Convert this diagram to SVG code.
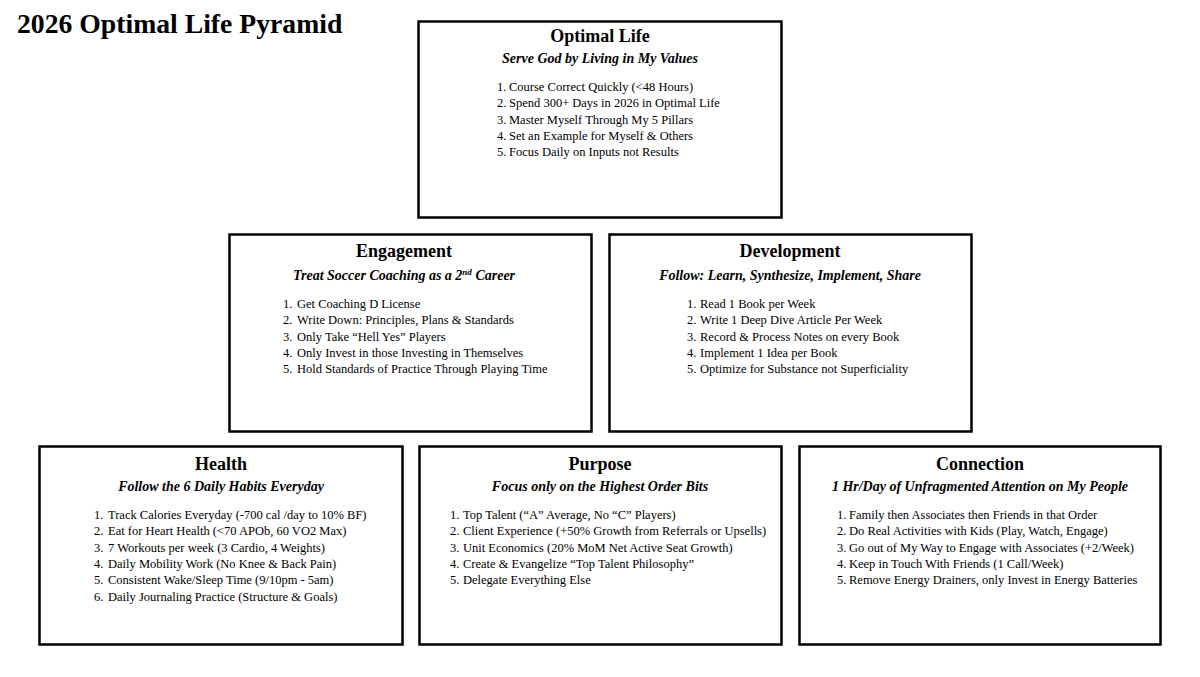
<svg xmlns="http://www.w3.org/2000/svg" width="1200" height="677" viewBox="0 0 1200 677">
<style>
.box{fill:#fff;stroke:#000;stroke-width:2.5}
.ttl{font-family:"Liberation Serif",serif;font-weight:bold;font-size:18px;text-anchor:middle;fill:#000}
.sub{font-family:"Liberation Serif",serif;font-weight:bold;font-style:italic;font-size:14px;text-anchor:middle;fill:#000}
.li{font-family:"Liberation Serif",serif;font-size:12.5px;fill:#000}
.main{font-family:"Liberation Serif",serif;font-weight:bold;font-size:27.7px;fill:#000}
</style>
<rect width="1200" height="677" fill="#fff"/>
<text class="main" x="17" y="33">2026 Optimal Life Pyramid</text>

<g id="optimal-life">
<rect class="box" x="418.5" y="21.5" width="363" height="196"/>
<text class="ttl" x="600" y="41.5">Optimal Life</text>
<text class="sub" x="600" y="62.5">Serve God by Living in My Values</text>
<text class="li" y="91"><tspan x="497">1.</tspan><tspan x="509">Course Correct Quickly (&lt;48 Hours)</tspan></text>
<text class="li" y="107.3"><tspan x="497">2.</tspan><tspan x="509">Spend 300+ Days in 2026 in Optimal Life</tspan></text>
<text class="li" y="123.6"><tspan x="497">3.</tspan><tspan x="509">Master Myself Through My 5 Pillars</tspan></text>
<text class="li" y="139.9"><tspan x="497">4.</tspan><tspan x="509">Set an Example for Myself &amp; Others</tspan></text>
<text class="li" y="156.2"><tspan x="497">5.</tspan><tspan x="509">Focus Daily on Inputs not Results</tspan></text>
</g>

<g id="engagement">
<rect class="box" x="229.5" y="234.5" width="362" height="197"/>
<text class="ttl" x="404" y="257">Engagement</text>
<text class="sub" x="404" y="280">Treat Soccer Coaching as a 2<tspan font-size="9" baseline-shift="super">nd</tspan> Career</text>
<text class="li" y="308"><tspan x="283">1.</tspan><tspan x="297">Get Coaching D License</tspan></text>
<text class="li" y="324.3"><tspan x="283">2.</tspan><tspan x="297">Write Down: Principles, Plans &amp; Standards</tspan></text>
<text class="li" y="340.6"><tspan x="283">3.</tspan><tspan x="297">Only Take “Hell Yes” Players</tspan></text>
<text class="li" y="356.9"><tspan x="283">4.</tspan><tspan x="297">Only Invest in those Investing in Themselves</tspan></text>
<text class="li" y="373.2"><tspan x="283">5.</tspan><tspan x="297">Hold Standards of Practice Through Playing Time</tspan></text>
</g>

<g id="development">
<rect class="box" x="609.5" y="234.5" width="362" height="197"/>
<text class="ttl" x="790" y="257">Development</text>
<text class="sub" x="790" y="280">Follow: Learn, Synthesize, Implement, Share</text>
<text class="li" y="308"><tspan x="687">1.</tspan><tspan x="700">Read 1 Book per Week</tspan></text>
<text class="li" y="324.3"><tspan x="687">2.</tspan><tspan x="700">Write 1 Deep Dive Article Per Week</tspan></text>
<text class="li" y="340.6"><tspan x="687">3.</tspan><tspan x="700">Record &amp; Process Notes on every Book</tspan></text>
<text class="li" y="356.9"><tspan x="687">4.</tspan><tspan x="700">Implement 1 Idea per Book</tspan></text>
<text class="li" y="373.2"><tspan x="687">5.</tspan><tspan x="700">Optimize for Substance not Superficiality</tspan></text>
</g>

<g id="health">
<rect class="box" x="39.5" y="446.5" width="363" height="198"/>
<text class="ttl" x="221" y="470">Health</text>
<text class="sub" x="221" y="491">Follow the 6 Daily Habits Everyday</text>
<text class="li" y="519"><tspan x="94">1.</tspan><tspan x="108">Track Calories Everyday (-700 cal /day to 10% BF)</tspan></text>
<text class="li" y="535.3"><tspan x="94">2.</tspan><tspan x="108">Eat for Heart Health (&lt;70 APOb, 60 VO2 Max)</tspan></text>
<text class="li" y="551.6"><tspan x="94">3.</tspan><tspan x="108">7 Workouts per week (3 Cardio, 4 Weights)</tspan></text>
<text class="li" y="567.9"><tspan x="94">4.</tspan><tspan x="108">Daily Mobility Work (No Knee &amp; Back Pain)</tspan></text>
<text class="li" y="584.2"><tspan x="94">5.</tspan><tspan x="108">Consistent Wake/Sleep Time (9/10pm - 5am)</tspan></text>
<text class="li" y="600.5"><tspan x="94">6.</tspan><tspan x="108">Daily Journaling Practice (Structure &amp; Goals)</tspan></text>
</g>

<g id="purpose">
<rect class="box" x="419.5" y="446.5" width="362" height="198"/>
<text class="ttl" x="600" y="470">Purpose</text>
<text class="sub" x="600" y="491">Focus only on the Highest Order Bits</text>
<text class="li" y="519"><tspan x="450">1.</tspan><tspan x="463">Top Talent (“A” Average, No “C” Players)</tspan></text>
<text class="li" y="535.3"><tspan x="450">2.</tspan><tspan x="463">Client Experience (+50% Growth from Referrals or Upsells)</tspan></text>
<text class="li" y="551.6"><tspan x="450">3.</tspan><tspan x="463">Unit Economics (20% MoM Net Active Seat Growth)</tspan></text>
<text class="li" y="567.9"><tspan x="450">4.</tspan><tspan x="463">Create &amp; Evangelize “Top Talent Philosophy”</tspan></text>
<text class="li" y="584.2"><tspan x="450">5.</tspan><tspan x="463">Delegate Everything Else</tspan></text>
</g>

<g id="connection">
<rect class="box" x="799.5" y="446.5" width="361" height="198"/>
<text class="ttl" x="980" y="470">Connection</text>
<text class="sub" x="980" y="491">1 Hr/Day of Unfragmented Attention on My People</text>
<text class="li" y="519"><tspan x="837">1.</tspan><tspan x="849">Family then Associates then Friends in that Order</tspan></text>
<text class="li" y="535.3"><tspan x="837">2.</tspan><tspan x="849">Do Real Activities with Kids (Play, Watch, Engage)</tspan></text>
<text class="li" y="551.6"><tspan x="837">3.</tspan><tspan x="849">Go out of My Way to Engage with Associates (+2/Week)</tspan></text>
<text class="li" y="567.9"><tspan x="837">4.</tspan><tspan x="849">Keep in Touch With Friends (1 Call/Week)</tspan></text>
<text class="li" y="584.2"><tspan x="837">5.</tspan><tspan x="849">Remove Energy Drainers, only Invest in Energy Batteries</tspan></text>
</g>
</svg>
